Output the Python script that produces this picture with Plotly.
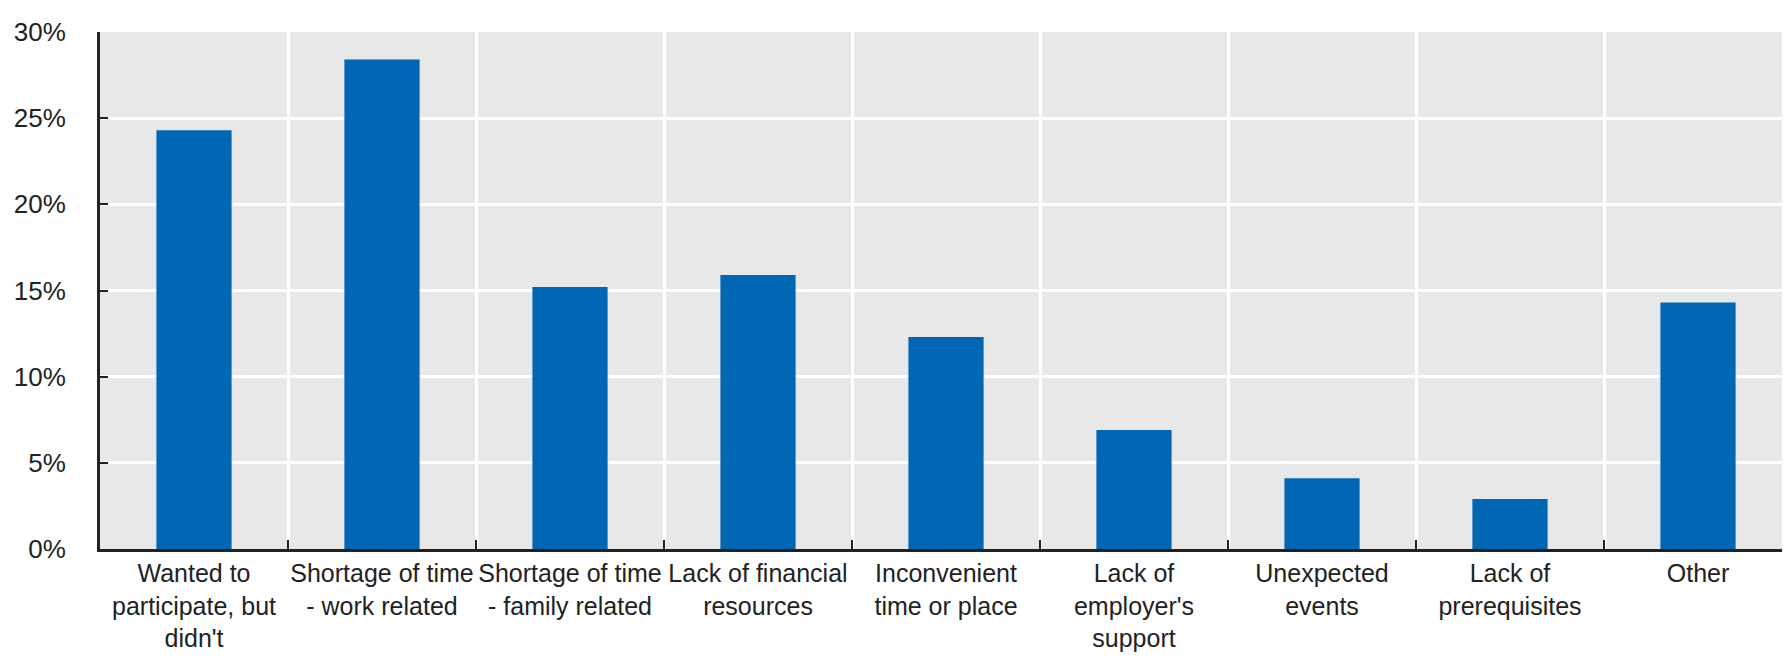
import plotly.graph_objects as go

categories = [
    "Wanted to<br>participate, but<br>didn't",
    "Shortage of time<br>- work related",
    "Shortage of time<br>- family related",
    "Lack of financial<br>resources",
    "Inconvenient<br>time or place",
    "Lack of<br>employer's<br>support",
    "Unexpected<br>events",
    "Lack of<br>prerequisites",
    "Other",
]
values = [24.3, 28.4, 15.2, 15.9, 12.3, 6.9, 4.1, 2.9, 14.3]
y_ticks = [0, 5, 10, 15, 20, 25, 30]

FONT = "Liberation Sans Narrow, Arial Narrow, Liberation Sans, Arial, sans-serif"

fig = go.Figure(
    go.Bar(
        x=categories,
        y=values,
        width=0.4,
        marker=dict(color="#0067B4", line=dict(width=0)),
    )
)

fig.update_layout(
    width=1790,
    height=658,
    margin=dict(l=92, r=6, t=24, b=117),
    paper_bgcolor="white",
    plot_bgcolor="#E8E8E8",
    showlegend=False,
    font=dict(family=FONT, size=25, color="#222222"),
)

fig.update_xaxes(
    tickson="boundaries",
    ticks="inside",
    ticklen=9,
    tickwidth=2,
    tickcolor="#222222",
    showgrid=True,
    gridcolor="white",
    gridwidth=3,
    showline=True,
    linecolor="#222222",
    linewidth=3,
    tickfont=dict(family=FONT, size=25, color="#222222"),
    tickangle=0,
)

fig.update_yaxes(
    range=[0, 30],
    tickvals=y_ticks,
    ticktext=[f"{v}%" for v in y_ticks],
    ticks="inside",
    ticklen=8,
    tickwidth=2,
    tickcolor="#222222",
    showgrid=True,
    gridcolor="white",
    gridwidth=3,
    showline=True,
    linecolor="#222222",
    linewidth=3,
    zeroline=False,
    tickfont=dict(family=FONT, size=26, color="#222222"),
    ticklabelstandoff=26,
)

fig.write_html("out.html")
